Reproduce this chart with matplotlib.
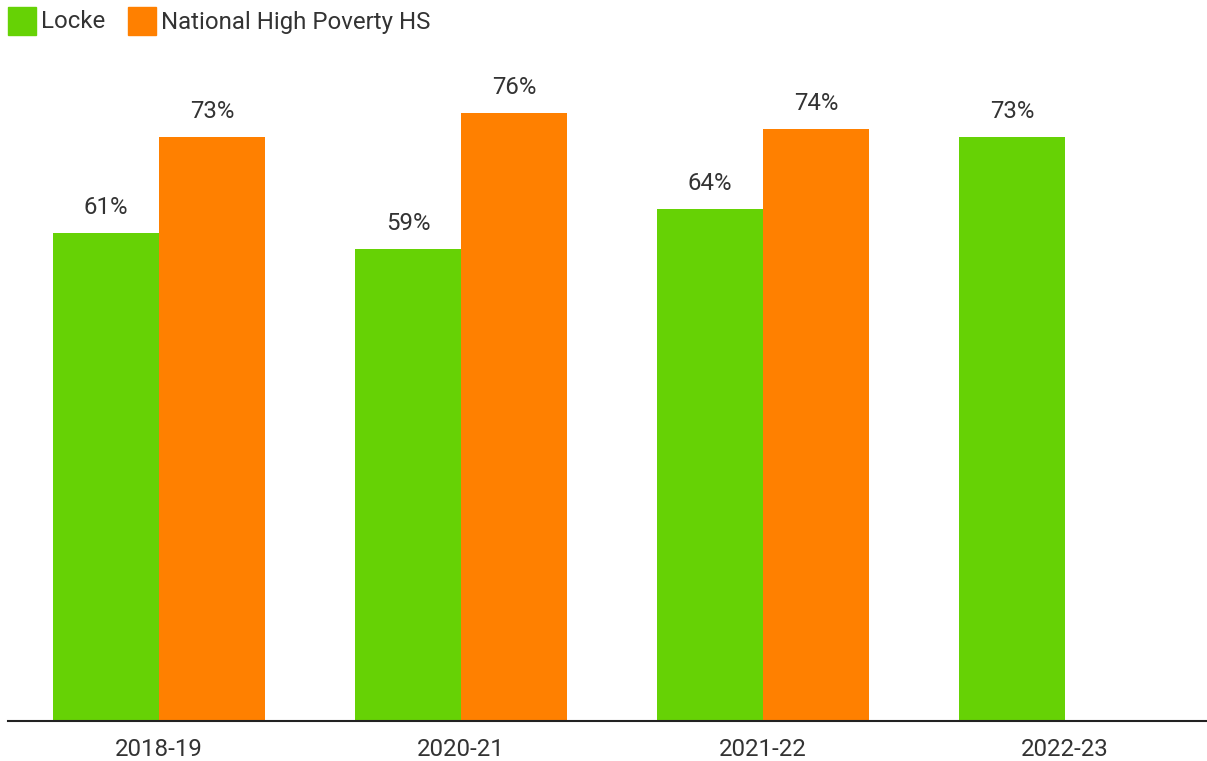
import matplotlib
matplotlib.use("Agg")
import matplotlib.pyplot as plt
from matplotlib.patches import Rectangle

plt.rcParams['font.family'] = ['Roboto', 'DejaVu Sans']

years = ["2018-19", "2020-21", "2021-22", "2022-23"]
locke = [61, 59, 64, 73]
national = [73, 76, 74, None]

GREEN = "#66D205"
ORANGE = "#FF8000"
TEXT = "#333333"
FS = 17.3

W, H = 1207, 761
fig = plt.figure(figsize=(W / 100, H / 100), dpi=100)
# axes in pixel coordinates: x from 8 to 1216, baseline at y=721, top at y=81
ax = fig.add_axes([8 / W, (H - 721) / H, (1216 - 8) / W, (721 - 81) / H])
ax.set_xlim(-0.5, 3.5)
ax.set_ylim(0, 80)

bw = 0.35
for i, (a, b) in enumerate(zip(locke, national)):
    ax.bar(i - bw / 2, a, width=bw, color=GREEN, linewidth=0)
    ax.text(i - bw / 2, a + 1.8, f"{a}%", ha="center", va="bottom",
            fontsize=FS, color=TEXT)
    if b is not None:
        ax.bar(i + bw / 2, b, width=bw, color=ORANGE, linewidth=0)
        ax.text(i + bw / 2, b + 1.8, f"{b}%", ha="center", va="bottom",
                fontsize=FS, color=TEXT)

for s in ["top", "right", "left"]:
    ax.spines[s].set_visible(False)
ax.spines["bottom"].set_color("#222222")
ax.spines["bottom"].set_linewidth(1.5)
ax.set_yticks([])
ax.set_xticks(range(len(years)))
ax.set_xticklabels(years, fontsize=FS, color=TEXT)
ax.tick_params(axis="x", length=0, pad=12)

# legend drawn at the top-left of the figure
legend_items = [("Locke", GREEN, 8), ("National High Poverty HS", ORANGE, 128)]
for label, color, x0 in legend_items:
    fig.patches.append(Rectangle((x0 / W, (H - 35) / H), 28 / W, 28 / H,
                                 transform=fig.transFigure, color=color))
    fig.text((x0 + 33) / W, (H - 22) / H, label, ha="left", va="center",
             fontsize=FS, color=TEXT)

fig.savefig("out.png", dpi=100)
